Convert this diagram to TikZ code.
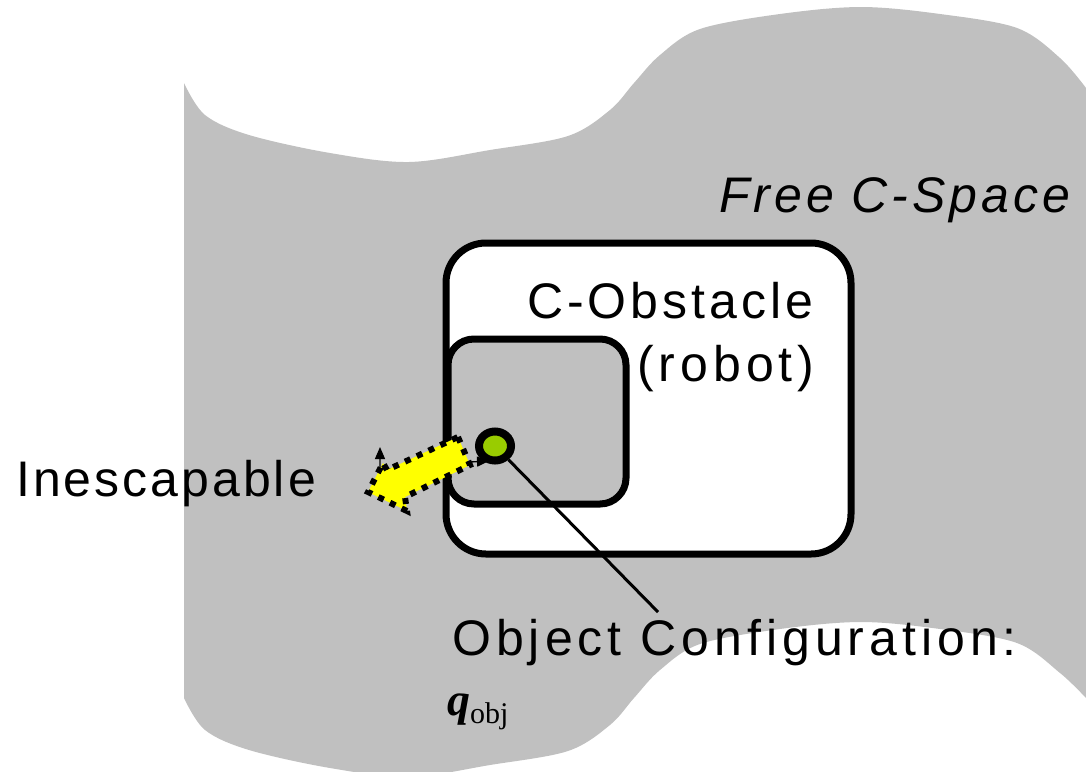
\documentclass[tikz,border=0pt]{standalone}
\usepackage{fontspec}
\setmainfont{Liberation Sans}
\newfontfamily\lblfont[LetterSpace=8]{Liberation Sans}
\newfontfamily\lblwide[LetterSpace=10]{Liberation Sans}
\newfontfamily\lblnarrow[LetterSpace=6]{Liberation Sans}
\newfontfamily\qfont{Liberation Serif}
\usetikzlibrary{shapes.geometric,arrows.meta}
\definecolor{spacegray}{HTML}{C0C0C0}
\definecolor{objgreen}{HTML}{99CC00}
\definecolor{arrowyellow}{HTML}{FFFF00}
\tikzset{
  label/.style={anchor=base west, inner sep=0pt, font=\lblfont\fontsize{50}{60}\selectfont},
  obstacle/.style={draw=black, line width=7pt},
  escape/.style={fill=arrowyellow},
  escapeedge/.style={draw=black, line width=6pt, dash pattern=on 6pt off 7pt},
  hint/.style={draw=black, line width=1.3pt, {Triangle[length=12pt,width=10pt]}-{Triangle[length=12pt,width=10pt]}},
}
\begin{document}
\begin{tikzpicture}[x=1pt, y=-1pt]
\useasboundingbox (0,0) rectangle (1086,771);
\clip (0,0) rectangle (1086,771);

% free configuration space: a wavy sheet
\fill[spacegray]
  plot[smooth, tension=0.55] coordinates {(184,83) (205,115) (249,135) (330,153) (409,162) (490,150) (568,136) (610,110) (634,83) (660,55) (700,29) (780,14) (861,7) (940,14) (1017,28) (1060,58) (1086,88)}
  -- (1086,698)
  -- plot[smooth, tension=0.55] coordinates {(1086,698) (1060,673) (1017,643) (940,629) (861,622) (780,629) (700,644) (660,670) (634,698) (610,725) (568,751) (490,765) (409,777) (330,768) (249,750) (205,730) (184,698)}
  -- cycle;

% C-obstacle of the robot and the obstacle region inside it
\draw[obstacle, fill=white, rounded corners=40pt] (446,243) rectangle (851,554);
\draw[obstacle, fill=spacegray, rounded corners=26pt] (448,339) rectangle (626,504);

% connector hidden behind the escape arrow
\coordinate (h1) at (380,447);
\coordinate (h2) at (380,470);
\coordinate (h3) at (470,462);
\coordinate (h4) at (489,461);
\draw[hint] (h1) -- (h2) -- (h3) -- (h4);

% escape arrow
\path[escape] (458,437) -- (470,465) -- (405,497) -- (407,511) -- (368,492) -- (383,463) -- (387,470) -- cycle;
\path[escapeedge] (458,437) -- (470,465) -- (405,497) -- (407,511) -- (368,492) -- (383,463) -- (387,470) -- cycle;

% object configuration
\node[ellipse, draw=black, line width=8pt, fill=objgreen, minimum width=32pt, minimum height=29pt, inner sep=0pt] (obj) at (495,446) {};
\coordinate (objlabel) at (658,612);
\draw[line width=3pt] (obj) -- (objlabel);

% labels
\node[label, font=\lblfont\itshape\fontsize{50}{60}\selectfont] (free) at (719,212) {Free C-Space};
\node[label] (cobs) at (527,318) {C-Obstacle};
\node[label, font=\lblwide\fontsize{50}{60}\selectfont] (robot) at (637,381) {(robot)};
\node[label, font=\lblnarrow\fontsize{50}{60}\selectfont] (ines) at (16,496) {Inescapable};
\node[label, font=\lblwide\fontsize{50}{60}\selectfont] (oconf) at (452,655) {Object Configuration:};
\node[anchor=base west, inner sep=0pt] (q) at (447,715) {\qfont\fontsize{46}{46}\selectfont\textbf{\textit{q}}\raisebox{-8pt}{\fontsize{30}{30}\selectfont obj}};
\end{tikzpicture}
\end{document}
